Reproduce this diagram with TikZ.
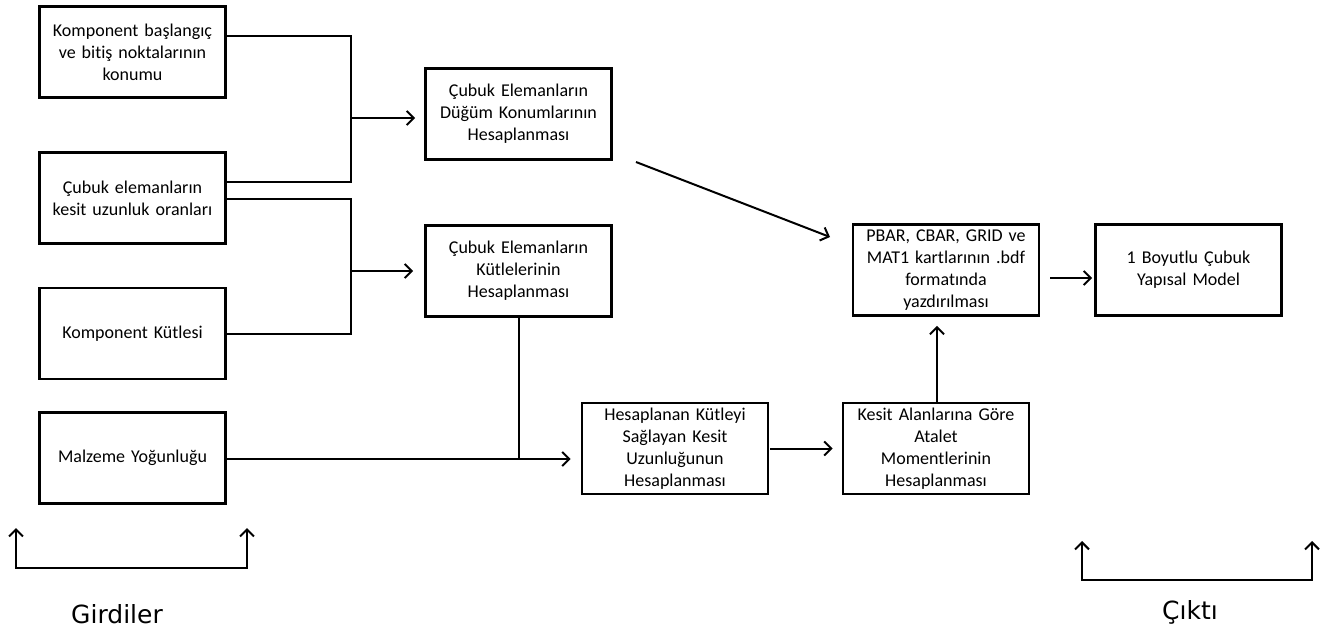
\documentclass[tikz,border=0pt]{standalone}
\usepackage{fontspec}
\setmainfont{Carlito}[Ligatures={NoCommon,NoRare},Contextuals={NoAlternate}]
\newfontfamily\labfont{DejaVu Sans}
\usetikzlibrary{arrows.meta}
\begin{document}
\begin{tikzpicture}[x=1pt,y=-1pt,
  box/.style={draw,line width=2.8pt,minimum width=186pt,minimum height=91pt,inner sep=0pt,
    align=center,text width=184pt,font=\fontsize{18pt}{22pt}\selectfont},
  conn/.style={line width=2pt},
  arr/.style={conn,-{Straight Barb[length=7pt,width=14pt,line width=2pt]}},
  barr/.style={conn,{Straight Barb[length=7pt,width=14pt,line width=2pt]}-{Straight Barb[length=7pt,width=14pt,line width=2pt]}},
  lab/.style={font=\labfont\fontsize{25pt}{30pt}\selectfont}]
\useasboundingbox (0,0) rectangle (1331,637);
\fill[white] (0,0) rectangle (1331,637);
% nodes
\node[box] (A) at (132.5,52) {Komponent başlangıç\\ve bitiş noktalarının\\konumu};
\node[box] (B) at (132.5,198) {Çubuk elemanların\\kesit uzunluk oranları};
\node[box] (C) at (132.5,333.5) {Komponent Kütlesi};
\node[box] (D) at (132.5,458) {Malzeme Yoğunluğu};
\node[box] (E) at (518.5,114) {Çubuk Elemanların\\Düğüm Konumlarının\\Hesaplanması};
\node[box] (F) at (518.5,271) {Çubuk Elemanların\\Kütlelerinin\\Hesaplanması};
\node[box] (G) at (675,448.5) {Hesaplanan Kütleyi\\Sağlayan Kesit\\Uzunluğunun\\Hesaplanması};
\node[box] (H) at (936,448.5) {Kesit Alanlarına Göre\\Atalet\\Momentlerinin\\Hesaplanması};
\node[box] (I) at (946,270) {PBAR, CBAR, GRID ve\\MAT1 kartlarının .bdf\\formatında\\yazdırılması};
\node[box] (J) at (1188.5,270) {1 Boyutlu Çubuk\\Yapısal Model};
% junction coordinates
\coordinate (j1) at (351,118);
\coordinate (j2) at (351,271);
\coordinate (dout) at ([yshift=-1pt]D.east);
\coordinate (aout) at ([yshift=16pt]A.east);
\coordinate (bin) at ([yshift=16pt]B.east);
\coordinate (bout) at ([yshift=-1pt]B.east);
\coordinate (iout) at ([yshift=-8pt]I.east);
\coordinate (hout) at ([xshift=1pt]H.north);
\coordinate (eiS) at (636,162);
\coordinate (eiT) at (830,237);
\coordinate (g1t) at (16,528);
\coordinate (g1b) at (16,568);
\coordinate (g2b) at (247,568);
\coordinate (g2t) at (247,528);
\coordinate (c1t) at (1082,541);
\coordinate (c1b) at (1082,580);
\coordinate (c2b) at (1312,580);
\coordinate (c2t) at (1312,541);
% connectors
\draw[conn] (aout) -| (j1) |- (bin);
\draw[conn] (bout) -| (j2) |- (C.east);
\draw[arr,shorten >=9pt] (j1) -- (j1 -| E.west);
\draw[arr,shorten >=11pt] (j2) -- (j2 -| F.west);
\draw[arr,shorten >=10pt] (dout) -- (dout -| G.west);
\draw[conn] (F.south) -- (F.south |- dout);
\draw[arr] (eiS) -- (eiT);
\draw[arr,shorten >=9pt,shorten <=1pt] (G.east) -- (H.west);
\draw[arr,shorten >=9pt] (hout) -- (hout |- I.south);
\draw[arr,shorten <=10pt,shorten >=2pt] (iout) -- (iout -| J.west);
\draw[barr] (g1t) -- (g1b) -- (g2b) -- (g2t);
\draw[barr] (c1t) -- (c1b) -- (c2b) -- (c2t);
\node[lab] (gl) at (117,614) {Girdiler};
\node[lab] (cl) at (1190,612) {Çıktı};
\end{tikzpicture}
\end{document}
